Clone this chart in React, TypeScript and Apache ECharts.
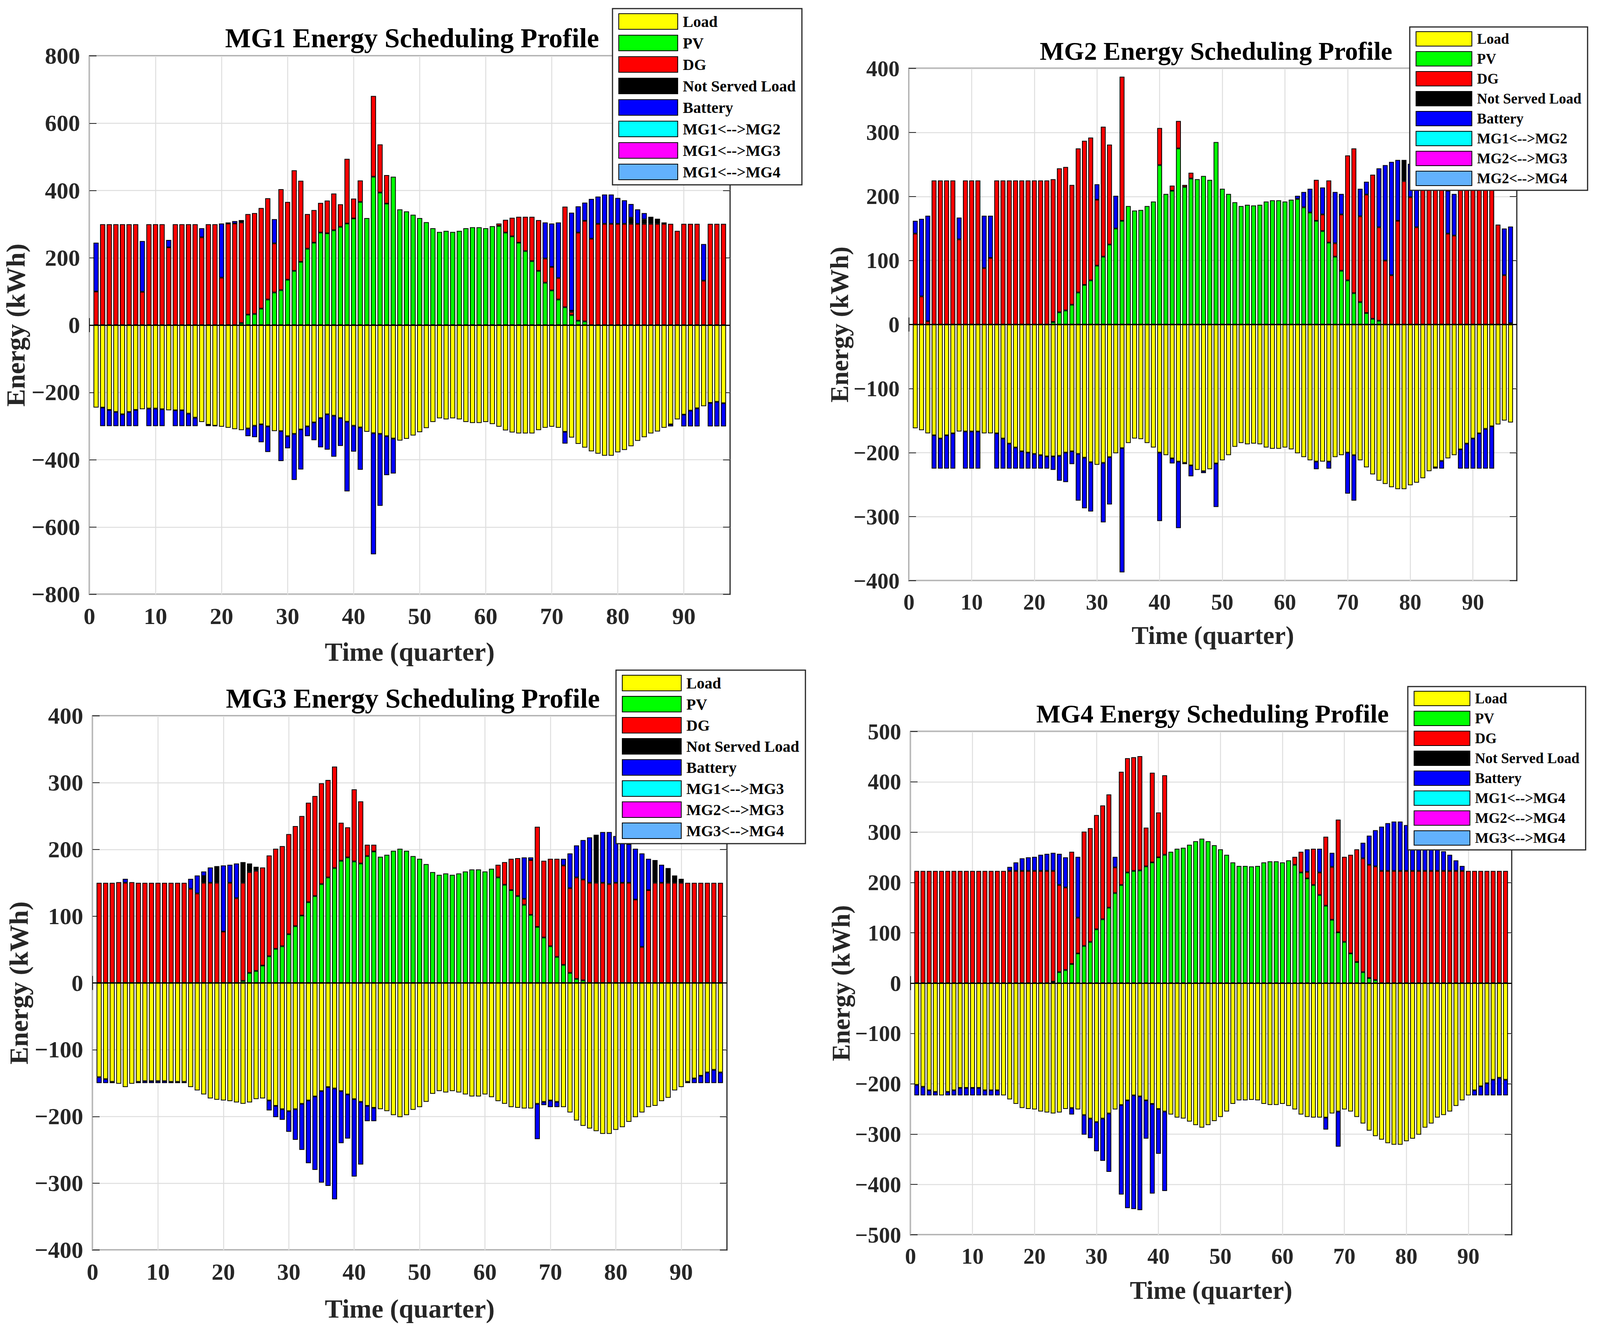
import { useEffect, useRef } from 'react'
import * as echarts from 'echarts'

// x positions 0..97 (bars sit on 1..96, one per quarter-hour)
const CATEGORIES = Array.from({ length: 98 }, (_, i) => String(i))

// ---- MG1 (kWh per quarter) ----
const MG1_LOAD = [
  245, 245, 252, 258, 265, 258, 252, 250, 248, 248, 250, 253,
  253, 253, 263, 275, 288, 296, 299, 302, 305, 309, 312, 307,
  299, 295, 301, 315, 315, 330, 323, 310, 301, 289, 276, 265,
  269, 276, 287, 299, 304, 317, 321, 323, 330, 337, 343, 338,
  328, 318, 306, 288, 277, 280, 277, 280, 288, 291, 291, 288,
  294, 302, 313, 319, 322, 322, 322, 312, 305, 302, 305, 317,
  334, 353, 364, 375, 382, 388, 388, 378, 371, 360, 344, 333,
  322, 316, 305, 295, 280, 266, 254, 247, 241, 231, 228, 232,
]
const MG1_PV = [
  0, 0, 0, 0, 0, 0, 0, 0, 0, 0, 0, 0,
  0, 0, 0, 0, 0, 0, 0, 0, 0, 0, 6, 31,
  33, 49, 76, 97, 104, 135, 161, 188, 227, 245, 275, 273,
  282, 292, 302, 317, 366, 318, 441, 394, 361, 441, 344, 338,
  328, 318, 306, 288, 277, 280, 277, 280, 288, 291, 291, 288,
  294, 295, 275, 264, 245, 220, 190, 161, 126, 103, 76, 53,
  30, 13, 11, 0, 0, 0, 0, 0, 0, 0, 0, 0,
  0, 0, 0, 0, 0, 0, 0, 0, 0, 0, 0, 0,
]
const MG1_DG = [
  100, 300, 300, 300, 300, 300, 300, 99, 300, 300, 300, 231,
  300, 300, 300, 300, 261, 300, 300, 141, 302, 302, 299, 299,
  300, 299, 301, 146, 300, 231, 299, 241, 103, 97, 88, 97,
  109, 67, 192, 59, 64, 0, 240, 143, 85, 0, 0, 0,
  0, 0, 0, 0, 0, 0, 0, 0, 0, 0, 0, 0,
  0, 7, 38, 55, 77, 102, 132, 151, 72, 70, 64, 299,
  9, 262, 299, 257, 301, 301, 301, 301, 301, 301, 301, 301,
  301, 301, 301, 301, 280, 301, 301, 301, 132, 301, 301, 301,
]
const MG1_NSL = [
  0, 0, 0, 0, 0, 0, 0, 0, 0, 0, 0, 0,
  0, 0, 0, 0, 0, 0, 0, 0, 3, 0, 7, 0,
  0, 0, 0, 0, 0, 0, 0, 0, 0, 0, 0, 0,
  0, 0, 0, 0, 0, 0, 0, 0, 0, 0, 0, 0,
  0, 0, 0, 0, 0, 0, 0, 0, 0, 0, 0, 0,
  0, 0, 0, 0, 0, 0, 0, 0, 0, 0, 0, 0,
  4, 0, 0, 0, 0, 0, 0, 0, 0, 18, 0, 13,
  21, 15, 0, 0, 0, 0, 0, 0, 0, 0, 0, 0,
]
// battery: + discharge, - charge
const MG1_BAT = [
  145, -55, -48, -42, -35, -42, -48, 151, -52, -52, -50, 22,
  -47, -47, -37, -25, 27, -4, -1, 161, 0, 7, 0, -23,
  -34, -53, -76, 72, -89, -36, -137, -119, -29, -53, -87, -105,
  -122, -83, -207, -77, -126, 0, -360, -214, -116, -104, 0, 0,
  0, 0, 0, 0, 0, 0, 0, 0, 0, 0, 0, 0,
  0, 0, 0, 0, 0, 0, 0, 0, 107, 129, 165, -35,
  291, 78, 54, 118, 81, 87, 87, 77, 70, 41, 43, 19,
  0, 0, 4, -6, 0, -35, -47, -54, 109, -70, -73, -69,
]
const MG1_LINKS = ['MG1<-->MG2', 'MG1<-->MG3', 'MG1<-->MG4']

// ---- MG2 ----
const MG2_LOAD = [
  162, 165, 170, 173, 178, 173, 170, 167, 167, 167, 167, 170,
  170, 170, 178, 186, 192, 198, 200, 202, 204, 206, 206, 205,
  200, 198, 202, 208, 215, 219, 216, 207, 201, 193, 185, 178,
  179, 185, 192, 200, 204, 209, 214, 216, 220, 227, 229, 226,
  217, 212, 204, 191, 185, 187, 186, 187, 192, 194, 194, 192,
  195, 201, 207, 212, 214, 214, 214, 207, 204, 200, 204, 212,
  223, 234, 244, 249, 254, 257, 257, 251, 247, 240, 229, 223,
  213, 209, 204, 195, 186, 178, 170, 163, 159, 156, 150, 153,
]
const MG2_PV = [
  0, 0, 0, 0, 0, 0, 0, 0, 0, 0, 0, 0,
  0, 0, 0, 0, 0, 0, 0, 0, 0, 0, 4, 19,
  22, 31, 50, 62, 69, 92, 106, 125, 150, 162, 185, 178,
  179, 185, 192, 249, 204, 209, 275, 215, 228, 227, 232, 226,
  285, 212, 204, 191, 185, 187, 186, 187, 192, 194, 194, 192,
  195, 196, 183, 175, 162, 146, 128, 106, 84, 69, 49, 35,
  18, 9, 6, 0, 0, 0, 0, 0, 0, 0, 0, 0,
  0, 0, 0, 0, 0, 0, 0, 0, 0, 0, 0, 0,
]
const MG2_DG = [
  142, 44, 5, 225, 225, 225, 225, 133, 225, 225, 225, 88,
  104, 225, 225, 225, 225, 225, 225, 225, 225, 225, 223, 225,
  224, 187, 225, 225, 223, 103, 203, 156, 0, 225, 0, 0,
  0, 0, 0, 58, 0, 8, 43, 3, 9, 0, 0, 0,
  0, 0, 0, 0, 0, 0, 0, 0, 0, 0, 0, 0,
  0, 0, 0, 0, 64, 26, 97, 21, 88, 195, 226, 134,
  185, 225, 146, 100, 77, 162, 224, 199, 152, 225, 225, 225,
  225, 142, 139, 225, 225, 225, 225, 225, 225, 156, 77, 2,
]
const MG2_NSL = [
  0, 0, 0, 0, 0, 0, 0, 0, 0, 0, 0, 0,
  0, 0, 0, 0, 0, 0, 0, 0, 0, 0, 0, 0,
  0, 0, 0, 0, 0, 0, 0, 0, 0, 0, 0, 0,
  0, 0, 0, 0, 0, 0, 0, 0, 0, 0, 0, 0,
  0, 0, 0, 0, 0, 0, 0, 0, 0, 0, 0, 0,
  0, 0, 0, 0, 0, 0, 0, 0, 0, 0, 0, 0,
  0, 0, 0, 0, 0, 0, 33, 0, 0, 0, 0, 0,
  0, 0, 0, 0, 0, 0, 0, 0, 0, 0, 0, 0,
]
const MG2_BAT = [
  20, 121, 165, -52, -47, -52, -55, 34, -58, -58, -58, 82,
  66, -55, -47, -39, -33, -27, -25, -23, -21, -19, -21, -39,
  -46, -20, -73, -79, -77, 24, -93, -74, 51, -194, 0, 0,
  0, 0, 0, -107, 0, -8, -104, -2, -17, 0, -3, 0,
  -68, 0, 0, 0, 0, 0, 0, 0, 0, 0, 0, 0,
  0, 5, 24, 37, -12, 42, -11, 80, 32, -64, -71, 43,
  20, 0, 92, 149, 177, 95, 0, 52, 95, 15, 4, -2,
  -12, 67, 65, -30, -39, -47, -55, -62, -66, 0, 73, 151,
]
const MG2_LINKS = ['MG1<-->MG2', 'MG2<-->MG3', 'MG2<-->MG4']

// ---- MG3 ----
const MG3_LOAD = [
  141, 144, 148, 151, 156, 151, 148, 147, 147, 147, 147, 148,
  148, 148, 156, 161, 167, 173, 175, 176, 177, 179, 181, 179,
  174, 173, 176, 184, 189, 192, 189, 181, 176, 170, 162, 156,
  158, 162, 167, 174, 178, 184, 187, 189, 192, 198, 201, 198,
  190, 186, 178, 166, 162, 164, 162, 164, 167, 170, 170, 167,
  171, 177, 181, 186, 187, 188, 188, 181, 178, 176, 178, 186,
  194, 206, 214, 218, 222, 226, 226, 220, 216, 208, 201, 194,
  186, 184, 177, 172, 161, 156, 148, 143, 139, 134, 130, 134,
]
const MG3_PV = [
  0, 0, 0, 0, 0, 0, 0, 0, 0, 0, 0, 0,
  0, 0, 0, 0, 0, 0, 0, 0, 0, 0, 3, 15,
  18, 26, 40, 51, 55, 73, 85, 101, 121, 130, 148, 158,
  172, 183, 188, 182, 179, 190, 197, 189, 192, 198, 201, 198,
  190, 186, 178, 166, 162, 164, 162, 164, 167, 170, 170, 167,
  171, 158, 147, 139, 130, 117, 102, 84, 68, 55, 39, 27,
  15, 6, 4, 0, 0, 0, 0, 0, 0, 0, 0, 0,
  0, 0, 0, 0, 0, 0, 0, 0, 0, 0, 0, 0,
]
const MG3_DG = [
  150, 150, 150, 151, 150, 151, 150, 150, 150, 150, 150, 150,
  150, 150, 141, 134, 150, 150, 150, 77, 150, 127, 147, 151,
  150, 147, 151, 150, 150, 150, 150, 149, 149, 150, 151, 146,
  152, 57, 45, 108, 93, 17, 10, 0, 0, 0, 0, 0,
  0, 0, 0, 0, 0, 0, 0, 0, 0, 0, 0, 0,
  0, 19, 34, 47, 57, 9, 82, 150, 115, 131, 147, 149,
  127, 152, 151, 150, 150, 150, 148, 150, 150, 150, 125, 54,
  139, 150, 150, 150, 150, 150, 150, 150, 150, 150, 150, 150,
]
const MG3_NSL = [
  0, 0, 0, 0, 0, 0, 0, 0, 0, 0, 0, 0,
  0, 0, 0, 0, 10, 0, 25, 0, 0, 0, 31, 13,
  6, 0, 0, 0, 0, 0, 0, 0, 0, 0, 0, 0,
  0, 0, 0, 0, 0, 0, 0, 0, 0, 0, 0, 0,
  0, 0, 0, 0, 0, 0, 0, 0, 0, 0, 0, 0,
  0, 0, 0, 0, 0, 0, 0, 0, 0, 0, 0, 0,
  0, 0, 0, 0, 72, 0, 0, 0, 0, 0, 0, 0,
  0, 34, 0, 22, 11, 6, 0, 0, 0, 0, 0, 0,
]
const MG3_BAT = [
  -9, -6, -2, 0, 6, 0, -2, -3, -3, -3, -3, -2,
  -2, -2, 15, 27, 7, 23, 0, 99, 27, 52, 0, 0,
  0, 0, -15, -17, -16, -31, -46, -69, -94, -110, -137, -148,
  -166, -78, -66, -116, -94, -23, -20, 0, 0, 0, 0, 0,
  0, 0, 0, 0, 0, 0, 0, 0, 0, 0, 0, 0,
  0, 0, 0, 0, 0, 62, 4, -53, -5, -10, -8, 10,
  52, 48, 59, 68, 0, 76, 78, 70, 66, 58, 76, 140,
  47, 0, 27, 0, 0, 0, -2, -7, -11, -16, -20, -16,
]
const MG3_LINKS = ['MG1<-->MG3', 'MG2<-->MG3', 'MG3<-->MG4']

// ---- MG4 ----
const MG4_LOAD = [
  202, 206, 213, 216, 223, 216, 213, 208, 208, 208, 208, 213,
  213, 213, 223, 231, 240, 248, 250, 251, 255, 257, 259, 257,
  250, 248, 251, 262, 269, 276, 269, 259, 251, 242, 233, 223,
  225, 233, 240, 250, 255, 261, 267, 269, 275, 282, 287, 282,
  274, 266, 255, 240, 233, 233, 232, 233, 240, 242, 242, 240,
  244, 251, 261, 266, 267, 267, 267, 259, 255, 251, 255, 266,
  279, 293, 304, 311, 318, 321, 321, 314, 309, 301, 287, 279,
  267, 262, 255, 244, 233, 223, 213, 205, 199, 192, 188, 192,
]
const MG4_PV = [
  0, 0, 0, 0, 0, 0, 0, 0, 0, 0, 0, 0,
  0, 0, 0, 0, 0, 0, 0, 0, 0, 0, 3, 22,
  26, 38, 59, 74, 82, 107, 127, 150, 179, 195, 220, 223,
  224, 232, 240, 250, 255, 261, 267, 269, 275, 282, 287, 282,
  274, 266, 255, 240, 233, 233, 232, 233, 240, 242, 242, 240,
  244, 235, 220, 208, 195, 175, 154, 126, 101, 82, 59, 42,
  22, 10, 6, 0, 0, 0, 0, 0, 0, 0, 0, 0,
  0, 0, 0, 0, 0, 0, 0, 0, 0, 0, 0, 0,
]
const MG4_DG = [
  223, 223, 223, 223, 223, 223, 223, 223, 223, 223, 223, 223,
  223, 223, 223, 223, 223, 223, 223, 223, 223, 223, 220, 173,
  164, 223, 71, 227, 226, 227, 226, 225, 51, 225, 227, 226,
  227, 77, 178, 89, 158, 0, 0, 0, 0, 0, 0, 0,
  0, 0, 0, 0, 0, 0, 0, 0, 0, 0, 0, 0,
  0, 16, 41, 13, 72, 45, 137, 105, 224, 169, 196, 224,
  226, 225, 226, 223, 223, 223, 223, 223, 223, 223, 223, 223,
  223, 223, 223, 223, 223, 223, 223, 223, 223, 223, 223, 223,
]
const MG4_NSL = [
  0, 0, 0, 0, 0, 0, 0, 0, 0, 0, 0, 0,
  0, 0, 0, 0, 0, 0, 0, 0, 0, 0, 0, 0,
  0, 0, 0, 0, 0, 0, 0, 0, 0, 0, 0, 0,
  0, 0, 0, 0, 0, 0, 0, 0, 0, 0, 0, 0,
  0, 0, 0, 0, 0, 0, 0, 0, 0, 0, 0, 0,
  0, 0, 0, 0, 0, 0, 0, 0, 0, 0, 0, 0,
  0, 0, 0, 0, 0, 0, 0, 0, 0, 0, 0, 0,
  0, 0, 0, 0, 0, 0, 0, 0, 0, 0, 0, 0,
]
const MG4_BAT = [
  -21, -17, -10, -7, 0, -7, -10, -15, -15, -15, -15, -10,
  -10, -10, 0, 8, 17, 25, 27, 28, 32, 34, 36, 62,
  60, -13, 121, -39, -39, -58, -84, -116, 21, -178, -214, -226,
  -226, -76, -178, -89, -158, 0, 0, 0, 0, 0, 0, 0,
  0, 0, 0, 0, 0, 0, 0, 0, 0, 0, 0, 0,
  0, 0, 0, 45, 0, 47, -24, 28, -70, 0, 0, 0,
  31, 58, 72, 88, 95, 98, 98, 91, 86, 78, 64, 56,
  44, 39, 32, 21, 10, 0, -10, -18, -24, -31, -35, -31,
]
const MG4_LINKS = ['MG1<-->MG4', 'MG2<-->MG4', 'MG3<-->MG4']

// no energy was exchanged between microgrids in this schedule
const LINK_FLOW: number[] = []

const FONT = '"Liberation Serif", "Times New Roman", serif'
const COLORS = {
  load: '#ffff00',
  pv: '#00ff00',
  dg: '#ff0000',
  nsl: '#000000',
  bat: '#0000ff',
  links: ['#00ffff', '#ff00ff', '#62b1fd'],
}

// layout measured on a 4352 px wide figure; x values get scaled to the real width
const DESIGN_WIDTH = 4352
const PANELS = [
  {
    id: 'MG1', load: MG1_LOAD, pv: MG1_PV, dg: MG1_DG, nsl: MG1_NSL, bat: MG1_BAT, links: MG1_LINKS,
    yMin: -800, yMax: 800, yStep: 200,
    grid: { left: 243, top: 143, width: 1742, height: 1378 },
    title: { x: 1116, y: 57, size: 70 },
    legend: { left: 1666, top: 22, w: 160, h: 40, gap: 13, pad: 12, size: 40 },
    tickSize: 60, nameSize: 68, yNameGap: 165, xNameGap: 113,
  },
  {
    id: 'MG2', load: MG2_LOAD, pv: MG2_PV, dg: MG2_DG, nsl: MG2_NSL, bat: MG2_BAT, links: MG2_LINKS,
    yMin: -400, yMax: 400, yStep: 100,
    grid: { left: 2472, top: 175, width: 1653, height: 1311 },
    title: { x: 3302, y: 92, size: 66 },
    legend: { left: 3835, top: 69, w: 152, h: 37, gap: 12, pad: 11, size: 37 },
    tickSize: 57, nameSize: 65, yNameGap: 152, xNameGap: 107,
  },
  {
    id: 'MG3', load: MG3_LOAD, pv: MG3_PV, dg: MG3_DG, nsl: MG3_NSL, bat: MG3_BAT, links: MG3_LINKS,
    yMin: -400, yMax: 400, yStep: 100,
    grid: { left: 252, top: 1832, width: 1726, height: 1367 },
    title: { x: 1118, y: 1747, size: 70 },
    legend: { left: 1676, top: 1715, w: 160, h: 40, gap: 12, pad: 12, size: 40 },
    tickSize: 60, nameSize: 68, yNameGap: 165, xNameGap: 116,
  },
  {
    id: 'MG4', load: MG4_LOAD, pv: MG4_PV, dg: MG4_DG, nsl: MG4_NSL, bat: MG4_BAT, links: MG4_LINKS,
    yMin: -500, yMax: 500, yStep: 100,
    grid: { left: 2477, top: 1872, width: 1635, height: 1288 },
    title: { x: 3293, y: 1788, size: 66 },
    legend: { left: 3829, top: 1757, w: 152, h: 37, gap: 12, pad: 11, size: 37 },
    tickSize: 57, nameSize: 65, yNameGap: 155, xNameGap: 109,
  },
]

const minus = (v: number) => (v < 0 ? '\u2212' + Math.abs(v) : String(v))
const everyTen = (idx: number) => idx % 10 === 0

// one slot per category: empty at 0 and 97, quarters 1..96 in between
function column(values: number[], sign = 1) {
  return ['-', ...values.map((v) => (v ? sign * v : '-')), '-']
}

function buildOption(sx: number) {
  const grid: any[] = []
  const xAxis: any[] = []
  const yAxis: any[] = []
  const title: any[] = []
  const legend: any[] = []
  const series: any[] = []
  const border = { borderColor: '#000', borderWidth: 2 }
  const tick = { show: true, inside: true, length: 18, lineStyle: { color: '#262626', width: 2 } }
  const X = (v: number) => Math.round(v * sx)

  PANELS.forEach((p, i) => {
    grid.push({
      left: X(p.grid.left), top: p.grid.top, width: X(p.grid.width), height: p.grid.height,
      show: true, borderColor: '#262626', borderWidth: 3, backgroundColor: '#fff',
    })
    title.push({
      text: `${p.id} Energy Scheduling Profile`,
      left: X(p.title.x),
      top: p.title.y,
      textAlign: 'center',
      textStyle: { fontFamily: FONT, fontWeight: 'bold', fontSize: p.title.size, color: '#000' },
    })
    xAxis.push({
      type: 'category', gridIndex: i, data: CATEGORIES, boundaryGap: false,
      name: 'Time (quarter)', nameLocation: 'middle', nameGap: p.xNameGap,
      nameTextStyle: { fontFamily: FONT, fontWeight: 'bold', fontSize: p.nameSize, color: '#262626' },
      axisLine: { show: false },
      axisTick: { ...tick, interval: everyTen },
      axisLabel: {
        fontFamily: FONT, fontWeight: 'bold', fontSize: p.tickSize, color: '#262626', margin: 26,
        interval: everyTen,
      },
      splitLine: { show: true, interval: everyTen, lineStyle: { color: '#dedede', width: 2.5 } },
    })
    yAxis.push({
      type: 'value', gridIndex: i, min: p.yMin, max: p.yMax, interval: p.yStep,
      name: 'Energy (kWh)', nameLocation: 'middle', nameGap: X(p.yNameGap),
      nameTextStyle: { fontFamily: FONT, fontWeight: 'bold', fontSize: p.nameSize, color: '#262626' },
      axisLine: { show: false },
      axisTick: tick,
      axisLabel: { fontFamily: FONT, fontWeight: 'bold', fontSize: p.tickSize, color: '#262626', margin: 24, formatter: minus },
      splitLine: { show: true, lineStyle: { color: '#dedede', width: 2.5 } },
    })

    const names = ['Load', 'PV', 'DG', 'Not Served Load', 'Battery', ...p.links]
    const colors = [COLORS.load, COLORS.pv, COLORS.dg, COLORS.nsl, COLORS.bat, ...COLORS.links]
    legend.push({
      orient: 'vertical',
      left: X(p.legend.left),
      top: p.legend.top,
      padding: [p.legend.pad, 16, p.legend.pad, 15],
      itemWidth: X(p.legend.w),
      itemHeight: p.legend.h,
      itemGap: p.legend.gap,
      backgroundColor: '#fff',
      borderColor: '#262626',
      borderWidth: 3,
      icon: 'rect',
      selectedMode: false,
      itemStyle: { borderColor: '#000', borderWidth: 2 },
      textStyle: { fontFamily: FONT, fontWeight: 'bold', fontSize: p.legend.size, color: '#000', padding: [0, 0, 0, 8] },
      data: names.map((name, k) => ({ name, itemStyle: { color: colors[k] } })),
    })

    const common = { type: 'bar', xAxisIndex: i, yAxisIndex: i, stack: p.id, barWidth: '78%' }
    series.push({
      ...common, name: 'Load', data: column(p.load, -1),
      itemStyle: { color: COLORS.load, ...border },
      markLine: {
        silent: true, symbol: ['none', 'none'], label: { show: false },
        lineStyle: { color: '#000', width: 3, type: 'solid' },
        data: [{ yAxis: 0 }],
      },
    })
    series.push({ ...common, name: 'PV', data: column(p.pv), itemStyle: { color: COLORS.pv, ...border } })
    series.push({ ...common, name: 'DG', data: column(p.dg), itemStyle: { color: COLORS.dg, ...border } })
    series.push({ ...common, name: 'Not Served Load', data: column(p.nsl), itemStyle: { color: COLORS.nsl, ...border } })
    series.push({ ...common, name: 'Battery', data: column(p.bat), itemStyle: { color: COLORS.bat, ...border } })
    p.links.forEach((name, k) => {
      series.push({ ...common, name, data: LINK_FLOW, itemStyle: { color: COLORS.links[k], ...border } })
    })
  })

  // mirrored ticks on the top and right edges of each box
  PANELS.forEach((p, i) => {
    xAxis.push({
      type: 'category', gridIndex: i, position: 'top', data: CATEGORIES, boundaryGap: false,
      axisLine: { show: false }, axisTick: { ...tick, interval: everyTen }, axisLabel: { show: false }, splitLine: { show: false },
    })
    yAxis.push({
      type: 'value', gridIndex: i, position: 'right', min: p.yMin, max: p.yMax, interval: p.yStep,
      axisLine: { show: false }, axisTick: tick, axisLabel: { show: false }, splitLine: { show: false },
    })
  })

  return { animation: false, backgroundColor: '#fff', grid, xAxis, yAxis, title, legend, series }
}

export default function App() {
  const chartRef = useRef<HTMLDivElement>(null)

  useEffect(() => {
    if (!chartRef.current) return
    const chart = echarts.init(chartRef.current, undefined, { renderer: 'svg' })
    const sx = Math.min(1, chartRef.current.clientWidth / DESIGN_WIDTH)
    chart.setOption(buildOption(sx) as any)
    return () => {
      chart.dispose()
    }
  }, [])

  return (
    <div
      ref={chartRef}
      style={{ position: 'absolute', left: 0, top: 0, width: '100%', maxWidth: DESIGN_WIDTH, height: 3396, background: '#fff' }}
    ></div>
  )
}
